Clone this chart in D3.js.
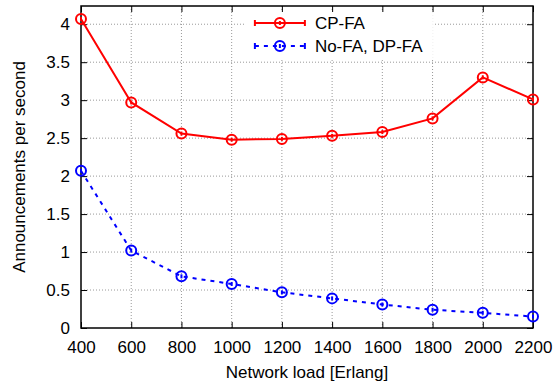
<!DOCTYPE html>
<html>
<head>
<meta charset="utf-8">
<script src="https://cdn.jsdelivr.net/npm/d3@7"></script>
<style>
	body { margin: 0; background: #fff; }
	text { font-family: "Liberation Sans", Arial, sans-serif; font-size: 17px; fill: #000; }
	.grid line { stroke: #999; stroke-width: 1; stroke-dasharray: 1,2; }
</style>
</head>
<body>
<div id="svg_container"></div>
<script>

/* -----------------------
data
------------------------- */

var loads = [400, 600, 800, 1000, 1200, 1400, 1600, 1800, 2000, 2200];
var cpfa = [4.07, 2.97, 2.56, 2.48, 2.49, 2.53, 2.58, 2.76, 3.30, 3.01];
var nofa = [2.07, 1.02, 0.68, 0.58, 0.47, 0.39, 0.31, 0.24, 0.20, 0.15];
var yTicks = [0, 0.5, 1, 1.5, 2, 2.5, 3, 3.5, 4];
var seriesNames = ['CP-FA', 'No-FA, DP-FA'];

/* -----------------------
main variables
------------------------- */

var width = 556;
var height = 387;
var margin = {top: 6, right: 23, bottom: 59, left: 81};
var plot_w = width - margin.left - margin.right;
var plot_h = height - margin.top - margin.bottom;
var tick_len = 6;

var svg = d3.select('#svg_container')
	.append('svg')
	.attr('width', width)
	.attr('height', height);

var plot = svg.append('g')
	.attr('transform', 'translate(' + margin.left + ',' + margin.top + ')');

var x = d3.scaleLinear().domain([400, 2200]).range([0, plot_w]);
var y = d3.scaleLinear().domain([0, 4.24]).range([plot_h, 0]);

/* --- grid --- */

var grid = plot.append('g').attr('class', 'grid');

grid.selectAll('.gx')
	.data(loads.slice(1, -1))
	.enter()
	.append('line')
	.attr('x1', function (d) { return x(d); })
	.attr('x2', function (d) { return x(d); })
	.attr('y1', 0)
	.attr('y2', plot_h);

grid.selectAll('.gy')
	.data(yTicks.slice(1))
	.enter()
	.append('line')
	.attr('x1', 0)
	.attr('x2', plot_w)
	.attr('y1', function (d) { return y(d); })
	.attr('y2', function (d) { return y(d); });

/* --- axes (gnuplot style, inward ticks on all sides) --- */

var xAxis = plot.append('g')
	.attr('transform', 'translate(0,' + plot_h + ')')
	.call(d3.axisBottom(x).tickValues(loads).tickSizeInner(-tick_len).tickSizeOuter(0).tickPadding(13).tickFormat(d3.format('d')));

var xTop = plot.append('g')
	.call(d3.axisTop(x).tickValues(loads).tickSizeInner(-tick_len).tickSizeOuter(0).tickFormat(''));

var yAxis = plot.append('g')
	.call(d3.axisLeft(y).tickValues(yTicks).tickSizeInner(-tick_len).tickSizeOuter(0).tickPadding(11).tickFormat(d3.format('')));

var yRight = plot.append('g')
	.attr('transform', 'translate(' + plot_w + ',0)')
	.call(d3.axisRight(y).tickValues(yTicks).tickSizeInner(-tick_len).tickSizeOuter(0).tickFormat(''));

[xAxis, xTop, yAxis, yRight].forEach(function (a) {
	a.select('.domain').remove();
	a.selectAll('line').attr('stroke', '#000').attr('stroke-width', 1);
	a.attr('font-size', null).attr('font-family', null);
});

plot.append('rect')
	.attr('width', plot_w)
	.attr('height', plot_h)
	.attr('fill', 'none')
	.attr('stroke', '#000')
	.attr('stroke-width', 1.5);

/* --- legend box (covers grid) --- */

var legend = plot.append('g')
	.attr('transform', 'translate(' + (x(1200) - 37) + ',6)');

legend.append('rect')
	.attr('width', 188)
	.attr('height', 46)
	.attr('fill', '#fff');

/* -----------------------
series
------------------------- */

var series = [
	{name: seriesNames[0], values: cpfa, color: '#ff0000', dash: null, width: 2},
	{name: seriesNames[1], values: nofa, color: '#0000ff', dash: '4,5', width: 2}
];

var line = d3.line()
	.x(function (d, i) { return x(loads[i]); })
	.y(function (d) { return y(d); });

function marker(g, color) {
	g.append('circle')
		.attr('r', 5)
		.attr('fill', 'none')
		.attr('stroke', color)
		.attr('stroke-width', 2);
	g.append('line')
		.attr('y1', -2)
		.attr('y2', 2)
		.attr('stroke', color)
		.attr('stroke-width', 2);
}

series.forEach(function (s, k) {
	plot.append('path')
		.datum(s.values)
		.attr('d', line)
		.attr('fill', 'none')
		.attr('stroke', s.color)
		.attr('stroke-width', s.width)
		.attr('stroke-dasharray', s.dash);

	plot.selectAll('.pt' + k)
		.data(s.values)
		.enter()
		.append('g')
		.attr('transform', function (d, i) { return 'translate(' + x(loads[i]) + ',' + y(d) + ')'; })
		.each(function () { marker(d3.select(this), s.color); });

	// legend entry
	var row = legend.append('g')
		.attr('transform', 'translate(10,' + (11 + k * 23) + ')');

	row.append('line')
		.attr('x1', 0)
		.attr('x2', 50)
		.attr('stroke', s.color)
		.attr('stroke-width', s.width)
		.attr('stroke-dasharray', s.dash);

	row.append('line').attr('x1', 0).attr('x2', 0).attr('y1', -3).attr('y2', 3)
		.attr('stroke', s.color).attr('stroke-width', 2);
	row.append('line').attr('x1', 50).attr('x2', 50).attr('y1', -3).attr('y2', 3)
		.attr('stroke', s.color).attr('stroke-width', 2);

	var m = row.append('g').attr('transform', 'translate(25,0)');
	marker(m, s.color);

	row.append('text')
		.attr('x', 60)
		.attr('dy', '0.35em')
		.text(s.name);
});

/* -----------------------
titles
------------------------- */

svg.append('text')
	.attr('x', margin.left + plot_w / 2)
	.attr('y', 378)
	.attr('text-anchor', 'middle')
	.text('Network load [Erlang]');

svg.append('text')
	.attr('transform', 'translate(25,' + (margin.top + plot_h / 2) + ') rotate(-90)')
	.attr('text-anchor', 'middle')
	.text('Announcements per second');

</script>
</body>
</html>
